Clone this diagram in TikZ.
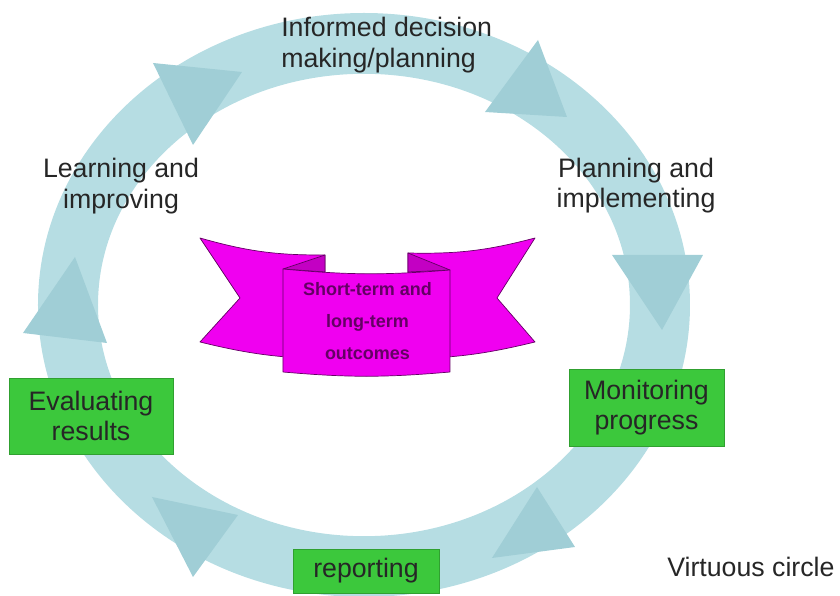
\documentclass[tikz,border=0pt]{standalone}
\usepackage{fontspec}
\setmainfont{Liberation Sans}
\usetikzlibrary{positioning}
\definecolor{ringblue}{RGB}{182,221,227}
\definecolor{headblue}{RGB}{160,206,214}
\definecolor{boxgreen}{RGB}{60,200,60}
\definecolor{ribbon}{RGB}{240,0,240}
\definecolor{ribbonfold}{RGB}{195,0,195}
\definecolor{ribbonline}{RGB}{100,0,100}
\tikzset{lbl/.style = {inner sep = 0, align = center, text = black!85, font = \fontsize{19}{21.5}\selectfont}}
\tikzset{stage/.style = {lbl, fill = boxgreen, draw = boxgreen!80!black, line width = 0.3pt}}
\tikzset{arrowhd/.style = {fill = headblue}}
\tikzset{band/.style = {fill = ribbon, draw = ribbonline, line width = 0.5pt, line join = round}}

\begin{document}
\begin{tikzpicture}
      \useasboundingbox (-9.1, -7.275) rectangle (11.9, 7.625);

      % ring and heads
      \fill [ringblue, even odd rule] (0, 0) ellipse [x radius = 8.15, y radius = 7.3] (0, 0) ellipse [x radius = 6.65, y radius = 5.78];
      \fill [arrowhd] (-5.275, 6.05) -- (-3.05, 5.825) -- (-4.275, 4.0) -- cycle;
      \fill [arrowhd] (4.35, 6.625) -- (5.075, 4.7) -- (3.025, 4.825) -- cycle;
      \fill [arrowhd] (6.2, 1.25) -- (8.475, 1.25) -- (7.45, -0.625) -- cycle;
      \fill [arrowhd] (4.325, -4.55) -- (5.275, -6.05) -- (3.2, -6.325) -- cycle;
      \fill [arrowhd] (-5.3, -4.8) -- (-3.15, -5.25) -- (-4.275, -6.8) -- cycle;
      \fill [arrowhd] (-8.525, -0.7) -- (-6.425, -0.95) -- (-7.225, 1.2) -- cycle;

      \node [lbl, align = left, anchor = west] (informed) at (-2.075, 6.5) {Informed decision\\making/planning};
      \node [lbl] (planning) at (6.8, 2.99) {Planning and\\implementing};
      \node [lbl] (learning) at (-6.075, 2.975) {Learning and\\improving};

      \node [stage, minimum width = 4.1cm, minimum height = 1.9cm] (evaluating) at (-6.825, -2.775) {Evaluating\\results};
      \node [stage, minimum width = 3.875cm, minimum height = 1.925cm] (monitoring) at (7.0625, -2.5625) {Monitoring\\progress};
      \node [stage, minimum width = 3.65cm, minimum height = 1.1cm] (reporting) at (0.05, -6.65) {reporting};

      \node [lbl, anchor = base west] (virtuous) at (7.575, -6.8) {Virtuous circle};

      % ribbon
      \draw [band] (-4.1, 1.675) to [bend right = 8] (-0.975, 1.25) -- (-0.975, -1.35) to [bend left = 6] (-4.1, -0.925) -- (-3.1, 0.175) -- cycle;
      \draw [band] (4.275, 1.675) to [bend left = 8] (1.1, 1.3) -- (1.1, -1.35) to [bend right = 6] (4.275, -0.925) -- (3.325, 0.175) -- cycle;
      \draw [band, fill = ribbonfold] (-2.025, 0.9) -- (-0.975, 1.25) -- (-0.975, 0.825) -- cycle;
      \draw [band, fill = ribbonfold] (2.15, 0.875) -- (1.1, 1.3) -- (1.1, 0.825) -- cycle;
      \draw [band] (-2.025, 0.9) to [bend right = 5] (2.15, 0.875) -- (2.15, -1.675) to [bend left = 5] (-2.025, -1.675) -- cycle;
      \node [align = center, inner sep = 0, text = ribbonline, font = \bfseries\fontsize{12.8}{22.7}\selectfont] (outcomes) at (0.0875, -0.4) {Short-term and\\long-term\\outcomes};
    \end{tikzpicture}
\end{document}
